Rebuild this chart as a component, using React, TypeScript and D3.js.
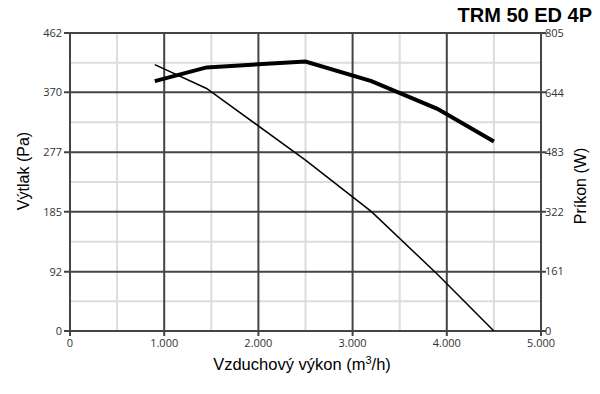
import React, { useEffect, useRef } from "react";
import * as d3 from "d3";

// airflow (m3/h) for both curves
const flow = [900, 1450, 2500, 3200, 3900, 4500];
// pressure (Pa), thin line, left axis
const pressure = [413, 376, 265, 185, 88, 0];
// power input (W), thick line, right axis
const power = [675, 712, 728, 675, 600, 512];

const xTicks = [0, 1000, 2000, 3000, 4000, 5000];
const leftTicks = [0, 92, 185, 277, 370, 462];
const rightTicks = [0, 161, 322, 483, 644, 805];

const width = 600;
const height = 394;
const margin = { top: 33, right: 59, bottom: 63, left: 70 };

const tickFont = "'Open Sans', sans-serif";
const titleFont = "'Liberation Sans', Arial, sans-serif";

export default function App() {
  const ref = useRef<SVGSVGElement>(null);

  useEffect(() => {
    const svg = d3.select(ref.current);
    svg.selectAll("*").remove();

    const x0 = margin.left;
    const x1 = width - margin.right;
    const y0 = height - margin.bottom;
    const y1 = margin.top;

    const x = d3.scaleLinear().domain([0, 5000]).range([x0, x1]);
    const yL = d3.scaleLinear().domain([0, 462]).range([y0, y1]);
    const yR = d3.scaleLinear().domain([0, 805]).range([y0, y1]);

    const g = svg.append("g");

    // minor grid (light)
    const xMinor = d3.range(500, 5000, 1000);
    g.selectAll("line.xm")
      .data(xMinor)
      .enter()
      .append("line")
      .attr("x1", (d) => x(d))
      .attr("x2", (d) => x(d))
      .attr("y1", y0)
      .attr("y2", y1)
      .attr("stroke", "#dcdcdc")
      .attr("stroke-width", 2);

    const yMinor = d3.range(0, 5).map((i) => (leftTicks[i] + leftTicks[i + 1]) / 2);
    g.selectAll("line.ym")
      .data(yMinor)
      .enter()
      .append("line")
      .attr("x1", x0)
      .attr("x2", x1)
      .attr("y1", (d) => yL(d))
      .attr("y2", (d) => yL(d))
      .attr("stroke", "#dcdcdc")
      .attr("stroke-width", 2);

    // major grid (dark)
    g.selectAll("line.xM")
      .data(xTicks)
      .enter()
      .append("line")
      .attr("x1", (d) => x(d))
      .attr("x2", (d) => x(d))
      .attr("y1", y0 + 5)
      .attr("y2", y1)
      .attr("stroke", "#444")
      .attr("stroke-width", 2);

    g.selectAll("line.yM")
      .data(leftTicks)
      .enter()
      .append("line")
      .attr("x1", x0 - 6)
      .attr("x2", x1 + 5)
      .attr("y1", (d) => yL(d))
      .attr("y2", (d) => yL(d))
      .attr("stroke", "#444")
      .attr("stroke-width", 2);

    // tick labels
    g.selectAll("text.xt")
      .data(xTicks)
      .enter()
      .append("text")
      .attr("x", (d) => x(d))
      .attr("y", y0 + 16)
      .attr("text-anchor", "middle")
      .style("font-family", tickFont)
      .style("font-size", "11px")
      .style("fill", "#333")
      .text((d) => (d === 0 ? "0" : d3.format(",")(d).replace(",", ".")));

    g.selectAll("text.yl")
      .data(leftTicks)
      .enter()
      .append("text")
      .attr("x", x0 - 8)
      .attr("y", (d) => yL(d) + 4)
      .attr("text-anchor", "end")
      .style("font-family", tickFont)
      .style("font-size", "11px")
      .style("fill", "#333")
      .text((d) => d);

    g.selectAll("text.yr")
      .data(rightTicks)
      .enter()
      .append("text")
      .attr("x", x1 + 4)
      .attr("y", (d) => yR(d) + 4)
      .attr("text-anchor", "start")
      .style("font-family", tickFont)
      .style("font-size", "11px")
      .style("fill", "#333")
      .text((d) => d);

    // curves
    const pts = flow.map((f, i) => ({ f, p: pressure[i], w: power[i] }));

    g.append("path")
      .datum(pts)
      .attr("fill", "none")
      .attr("stroke", "#000")
      .attr("stroke-width", 1.5)
      .attr(
        "d",
        d3
          .line<{ f: number; p: number }>()
          .x((d) => x(d.f))
          .y((d) => yL(d.p))
      );

    g.append("path")
      .datum(pts)
      .attr("fill", "none")
      .attr("stroke", "#000")
      .attr("stroke-width", 4)
      .attr(
        "d",
        d3
          .line<{ f: number; w: number }>()
          .x((d) => x(d.f))
          .y((d) => yR(d.w))
      );

    // titles
    svg
      .append("text")
      .attr("x", 592)
      .attr("y", 22)
      .attr("text-anchor", "end")
      .style("font-family", titleFont)
      .style("font-weight", "bold")
      .style("font-size", "20px")
      .style("fill", "#000")
      .text("TRM 50 ED 4P");

    const xt = svg
      .append("text")
      .attr("x", 302)
      .attr("y", 370)
      .attr("text-anchor", "middle")
      .style("font-family", titleFont)
      .style("font-size", "16.5px")
      .style("fill", "#000");
    xt.append("tspan").text("Vzduchový výkon (m");
    xt.append("tspan").attr("dy", -6).style("font-size", "11px").text("3");
    xt.append("tspan").attr("dy", 6).text("/h)");

    svg
      .append("text")
      .attr("transform", "translate(29,171) rotate(-90)")
      .attr("text-anchor", "middle")
      .style("font-family", titleFont)
      .style("font-size", "16px")
      .style("fill", "#000")
      .text("Výtlak (Pa)");

    svg
      .append("text")
      .attr("transform", "translate(586,186) rotate(-90)")
      .attr("text-anchor", "middle")
      .style("font-family", titleFont)
      .style("font-size", "16px")
      .style("fill", "#000")
      .text("Príkon (W)");
  }, []);

  return (
    <svg
      ref={ref}
      width={width}
      height={height}
      style={{ display: "block", margin: "-8px", background: "#fff" }}
    />
  );
}
